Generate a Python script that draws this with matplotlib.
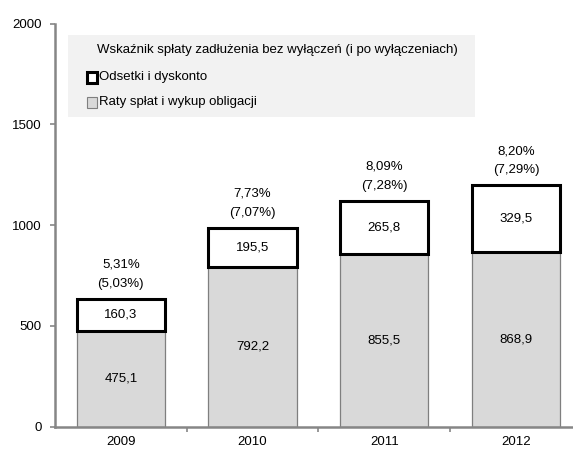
import numpy as np
import matplotlib
matplotlib.use('Agg')
import matplotlib.pyplot as plt
from matplotlib.patches import Rectangle

plt.rcParams['font.family'] = ['Liberation Sans', 'DejaVu Sans']
plt.rcParams['font.size'] = 9.5

years = ['2009', '2010', '2011', '2012']
raty = [475.1, 792.2, 855.5, 868.9]          # Raty splat i wykup obligacji
odsetki = [160.3, 195.5, 265.8, 329.5]       # Odsetki i dyskonto
wsk = ['5,31%', '7,73%', '8,09%', '8,20%']
wsk_po = ['(5,03%)', '(7,07%)', '(7,28%)', '(7,29%)']

def fmt(v):
    return ('%.1f' % v).replace('.', ',')

W, H = 573, 454
def fx(px):
    return px / W
def fy(py):
    return 1 - py / H

fig = plt.figure(figsize=(W/100, H/100), dpi=100)
# left spine at x=55; right edge runs past the figure edge (cropped like the source)
ax = fig.add_axes([fx(55), fy(426.7), 526.8/W, 403.2/H])

x = np.arange(len(years))
w = 0.67
ax.bar(x, raty, w, color='#d9d9d9', edgecolor='#7f7f7f', linewidth=0.9, zorder=2)
ax.bar(x, odsetki, w, bottom=raty, color='white', edgecolor='black', linewidth=2.2, zorder=3)

for i in range(len(years)):
    ax.text(x[i], raty[i]/2, fmt(raty[i]), ha='center', va='center', zorder=4)
    ax.text(x[i], raty[i] + odsetki[i]/2, fmt(odsetki[i]), ha='center', va='center', zorder=4)
    top = raty[i] + odsetki[i]
    ax.text(x[i], top + 45, wsk[i] + '\n' + wsk_po[i], ha='center', va='bottom', linespacing=1.75)

ax.set_xlim(-0.5, 3.5)
ax.set_ylim(0, 2000)
ax.set_yticks([0, 500, 1000, 1500, 2000])
ax.set_xticks(x)
ax.set_xticklabels(years)
ax.set_xticks([0.5, 1.5, 2.5], minor=True)
ax.tick_params(axis='x', which='major', length=0, pad=7)
ax.tick_params(axis='x', which='minor', length=3.5, direction='out', color='#868686', width=1.2)
ax.tick_params(axis='y', length=3.5, direction='out', color='#868686', width=1.2, pad=6)
for s in ['top', 'right']:
    ax.spines[s].set_visible(False)
for s in ['left', 'bottom']:
    ax.spines[s].set_color('#868686')
    ax.spines[s].set_linewidth(1.8)

# legend box drawn by hand (title indented relative to entries, like the source)
fig.patches.append(Rectangle((fx(68), fy(117)), (475-68)/W, (117-35)/H, transform=fig.transFigure,
                             facecolor='#f2f2f2', edgecolor='none', zorder=5))
fig.text(fx(97), fy(50), 'Wskaźnik spłaty zadłużenia bez wyłączeń (i po wyłączeniach)',
         ha='left', va='center', zorder=6)
leg_items = [('Odsetki i dyskonto', 'white', 'black', 2.2),
             ('Raty spłat i wykup obligacji', '#d9d9d9', '#7f7f7f', 0.8)]
for k, (lab, fc, ec, lw) in enumerate(leg_items):
    yc = 77 + 25*k
    fig.patches.append(Rectangle((fx(86.5), fy(yc + 5.5)), 10.5/W, 10.5/H, transform=fig.transFigure,
                                 facecolor=fc, edgecolor=ec, linewidth=lw, zorder=6))
    fig.text(fx(99), fy(yc), lab, ha='left', va='center', zorder=6)

fig.savefig('out.png', dpi=100)
